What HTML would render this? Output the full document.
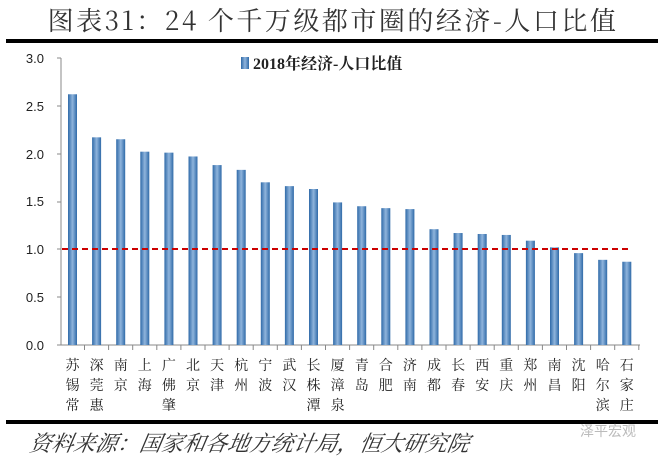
<!DOCTYPE html>
<html><head><meta charset="utf-8"><style>
body{margin:0;background:#fff;width:665px;height:464px;overflow:hidden}
</style></head><body>
<svg width="665" height="464" xmlns="http://www.w3.org/2000/svg">
<defs><linearGradient id="g" x1="0" x2="1"><stop offset="0" stop-color="#2f6aa8"/><stop offset="0.5" stop-color="#8fb4dc"/><stop offset="1" stop-color="#2f6aa8"/></linearGradient></defs>
<text x="333" y="30" text-anchor="middle" font-family="'Noto Serif CJK SC',serif" font-size="26" letter-spacing="2.5" fill="#333">图表31：24 个千万级都市圈的经济-人口比值</text>
<rect x="6" y="39" width="652" height="4" fill="#000"/>
<rect x="6" y="420" width="652" height="4" fill="#000"/>
<text x="28" y="451" font-family="'Noto Serif CJK SC',serif" font-style="italic" font-size="22" fill="#333" transform="skewX(-10) translate(80,0)">资料来源：国家和各地方统计局，恒大研究院</text>
<text x="580" y="436" font-family="'Noto Sans CJK SC',sans-serif" font-size="14" fill="#bbb">泽平宏观</text>
<g font-family="'Liberation Sans',sans-serif" font-size="13" fill="#222" text-anchor="end">
<text x="44" y="350">0.0</text><text x="44" y="302">0.5</text><text x="44" y="254">1.0</text><text x="44" y="206">1.5</text><text x="44" y="159">2.0</text><text x="44" y="111">2.5</text><text x="44" y="63">3.0</text></g>
<g stroke="#888"><line x1="61" y1="58" x2="61" y2="345"/><line x1="61" y1="345" x2="640" y2="345"/>
<line x1="57" y1="58" x2="61" y2="58"/><line x1="57" y1="106" x2="61" y2="106"/><line x1="57" y1="154" x2="61" y2="154"/><line x1="57" y1="202" x2="61" y2="202"/><line x1="57" y1="249" x2="61" y2="249"/><line x1="57" y1="297" x2="61" y2="297"/><line x1="57" y1="345" x2="61" y2="345"/></g>
<rect x="241" y="57" width="8" height="12" fill="url(#g)"/>
<text x="253" y="69" font-family="'Liberation Serif','Noto Serif CJK SC',serif" font-weight="bold" font-size="16" fill="#222">2018年经济-人口比值</text>
<g id="bars"></g>
<line x1="62" y1="249" x2="628" y2="249" stroke="#c00" stroke-width="2" stroke-dasharray="6,4"/>
<g id="labels" font-family="'Noto Serif CJK SC',serif" font-size="14" fill="#222" text-anchor="middle"></g>
</svg>
<script>
var v=[2.62,2.17,2.15,2.02,2.01,1.97,1.88,1.83,1.70,1.66,1.63,1.49,1.45,1.43,1.42,1.21,1.17,1.16,1.15,1.09,1.02,0.96,0.89,0.87];
var n=["苏锡常","深莞惠","南京","上海","广佛肇","北京","天津","杭州","宁波","武汉","长株潭","厦漳泉","青岛","合肥","济南","成都","长春","西安","重庆","郑州","南昌","沈阳","哈尔滨","石家庄"];
var ns="http://www.w3.org/2000/svg",b=document.getElementById("bars"),l=document.getElementById("labels");
for(var i=0;i<24;i++){var cx=72.5+i*24.1,h=v[i]*95.7;
var r=document.createElementNS(ns,"rect");r.setAttribute("x",cx-4.5);r.setAttribute("y",345-h);r.setAttribute("width",9);r.setAttribute("height",h);r.setAttribute("fill","url(#g)");b.appendChild(r);
var t=document.createElementNS(ns,"line");t.setAttribute("x1",cx+12);t.setAttribute("x2",cx+12);t.setAttribute("y1",345);t.setAttribute("y2",350);t.setAttribute("stroke","#888");b.appendChild(t);
for(var j=0;j<n[i].length;j++){var x=document.createElementNS(ns,"text");x.setAttribute("x",cx);x.setAttribute("y",370+j*20);x.textContent=n[i][j];l.appendChild(x);}}
</script>
</body></html>
